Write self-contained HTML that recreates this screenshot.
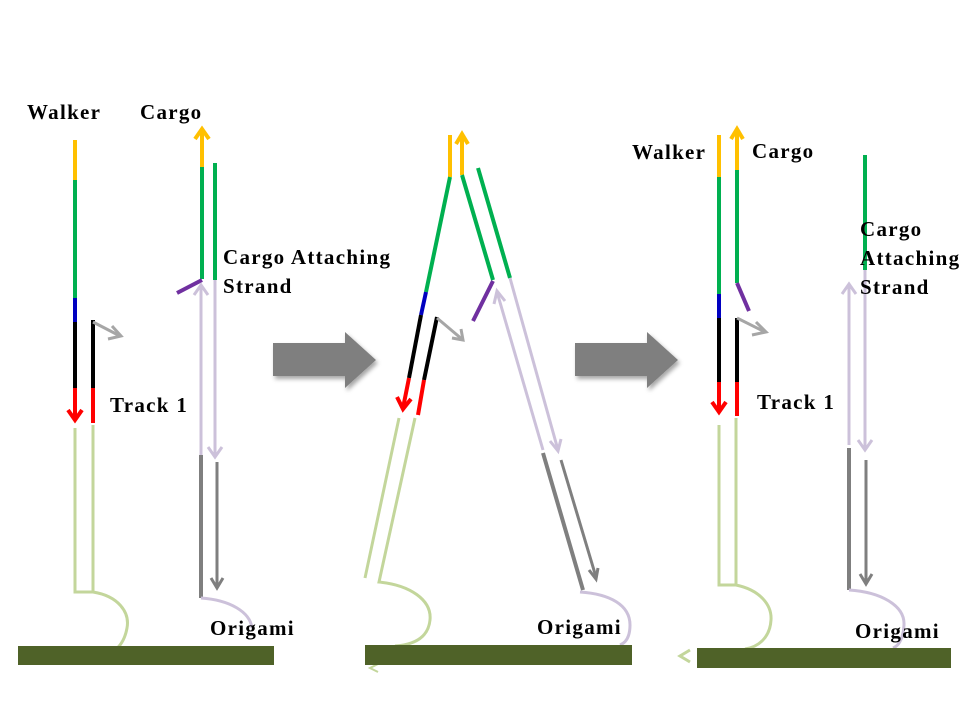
<!DOCTYPE html>
<html><head><style>
html,body{margin:0;padding:0;background:#fff;}
svg{display:block}
text{font-family:"Liberation Serif",serif;font-weight:bold;font-size:21px;letter-spacing:1.3px;fill:#000}
</style></head><body>
<svg width="960" height="720" viewBox="0 0 960 720" xmlns="http://www.w3.org/2000/svg">
<defs>
<filter id="sh" x="-20%" y="-20%" width="150%" height="150%"><feDropShadow dx="2" dy="3" stdDeviation="2" flood-color="#000" flood-opacity="0.35"/></filter>
</defs>
<g fill="none" stroke-width="4" stroke-linecap="butt">
<!-- Panel 1 -->
<line x1="75" y1="140" x2="75" y2="180" stroke="#ffc000"/>
<line x1="75" y1="180" x2="75" y2="298" stroke="#00b050"/>
<line x1="75" y1="298" x2="75" y2="322" stroke="#0000c0"/>
<line x1="75" y1="322" x2="75" y2="388" stroke="#000"/>
<line x1="75" y1="388" x2="75" y2="420" stroke="#ff0000"/>
<polyline points="68,410 75,420 82,410" stroke="#ff0000"/>
<line x1="93" y1="320" x2="93" y2="388" stroke="#000"/>
<line x1="93" y1="388" x2="93" y2="423" stroke="#ff0000"/>
<polyline points="93,322 120,336" stroke="#a6a6a6" stroke-width="3"/>
<polyline points="112,326 121,336 108,339" stroke="#a6a6a6" stroke-width="3"/>
<path d="M75,428 V592 H93 V425 M93,592 C118,596 130,612 127,628 C124,645 115,650 112,652" stroke="#c3d69b" stroke-width="3"/>
<line x1="202" y1="167" x2="202" y2="130" stroke="#ffc000"/>
<polyline points="195,139 202,129 209,139" stroke="#ffc000"/>
<line x1="202" y1="167" x2="202" y2="279" stroke="#00b050"/>
<line x1="215" y1="163" x2="215" y2="280" stroke="#00b050"/>
<line x1="202" y1="280" x2="177" y2="293" stroke="#7030a0"/>
<line x1="215" y1="280" x2="215" y2="457" stroke="#ccc1da" stroke-width="3"/>
<polyline points="208,447 215,457 222,447" stroke="#ccc1da" stroke-width="3"/>
<line x1="201" y1="455" x2="201" y2="285" stroke="#ccc1da" stroke-width="3"/>
<polyline points="194,295 201,285 208,295" stroke="#ccc1da" stroke-width="3"/>
<line x1="201" y1="455" x2="201" y2="598" stroke="#7f7f7f"/>
<line x1="217" y1="462" x2="217" y2="586" stroke="#7f7f7f" stroke-width="3"/>
<polyline points="211,578 217,588 223,578" stroke="#7f7f7f" stroke-width="3"/>
<path d="M201,598 C230,600 250,612 252,628" stroke="#ccc1da" stroke-width="3"/>
<!-- Panel 2 -->
<line x1="450" y1="135" x2="450" y2="177" stroke="#ffc000"/>
<line x1="450" y1="177" x2="426" y2="292" stroke="#00b050"/>
<line x1="426" y1="292" x2="421" y2="315" stroke="#0000c0"/>
<line x1="421" y1="315" x2="409" y2="378" stroke="#000"/>
<line x1="409" y1="378" x2="403" y2="408" stroke="#ff0000"/>
<polyline points="397,397 403,409 411,399" stroke="#ff0000"/>
<line x1="437" y1="317" x2="424" y2="380" stroke="#000"/>
<line x1="424" y1="380" x2="418" y2="415" stroke="#ff0000"/>
<polyline points="437,318 463,340" stroke="#a6a6a6" stroke-width="3"/>
<polyline points="452,338 463,340 461,329" stroke="#a6a6a6" stroke-width="3"/>
<path d="M399,418 L365,578 M415,418 L379,582 C410,585 432,600 430,620 C428,640 410,645 395,646" stroke="#c3d69b" stroke-width="3"/>
<line x1="462" y1="175" x2="462" y2="135" stroke="#ffc000"/>
<polyline points="456,144 462,134 468,144" stroke="#ffc000"/>
<line x1="462" y1="175" x2="493" y2="280" stroke="#00b050"/>
<line x1="493" y1="281" x2="473" y2="321" stroke="#7030a0"/>
<line x1="478" y1="168" x2="510" y2="278" stroke="#00b050"/>
<line x1="510" y1="278" x2="558" y2="450" stroke="#ccc1da" stroke-width="3"/>
<polyline points="550,441 558,451 561,439" stroke="#ccc1da" stroke-width="3"/>
<line x1="543" y1="450" x2="497" y2="292" stroke="#ccc1da" stroke-width="3"/>
<polyline points="494,304 497,291 505,301" stroke="#ccc1da" stroke-width="3"/>
<line x1="543" y1="453" x2="583" y2="590" stroke="#7f7f7f"/>
<line x1="561" y1="460" x2="596" y2="577" stroke="#7f7f7f" stroke-width="3"/>
<polyline points="589,570 596,579 598,568" stroke="#7f7f7f" stroke-width="3"/>
<path d="M580,592 C610,594 630,605 630,625 C630,638 625,643 620,645" stroke="#ccc1da" stroke-width="3"/>
<!-- Panel 3 -->
<line x1="719" y1="135" x2="719" y2="177" stroke="#ffc000"/>
<line x1="719" y1="177" x2="719" y2="294" stroke="#00b050"/>
<line x1="719" y1="294" x2="719" y2="318" stroke="#0000c0"/>
<line x1="719" y1="318" x2="719" y2="382" stroke="#000"/>
<line x1="719" y1="382" x2="719" y2="412" stroke="#ff0000"/>
<polyline points="712,402 719,412 726,402" stroke="#ff0000"/>
<line x1="737" y1="318" x2="737" y2="382" stroke="#000"/>
<line x1="737" y1="382" x2="737" y2="416" stroke="#ff0000"/>
<polyline points="737,318 765,332" stroke="#a6a6a6" stroke-width="3"/>
<polyline points="756,322 766,332 752,335" stroke="#a6a6a6" stroke-width="3"/>
<path d="M719,425 V585 H736 V418 M736,585 C760,590 772,605 771,620 C770,638 758,647 745,649" stroke="#c3d69b" stroke-width="3"/>
<line x1="737" y1="170" x2="737" y2="130" stroke="#ffc000"/>
<polyline points="731,139 737,129 743,139" stroke="#ffc000"/>
<line x1="737" y1="170" x2="737" y2="283" stroke="#00b050"/>
<line x1="737" y1="283" x2="749" y2="311" stroke="#7030a0"/>
<line x1="865" y1="155" x2="865" y2="270" stroke="#00b050"/>
<line x1="865" y1="270" x2="865" y2="450" stroke="#ccc1da" stroke-width="3"/>
<polyline points="858,440 865,450 872,440" stroke="#ccc1da" stroke-width="3"/>
<line x1="849" y1="445" x2="849" y2="284" stroke="#ccc1da" stroke-width="3"/>
<polyline points="842,294 849,284 856,294" stroke="#ccc1da" stroke-width="3"/>
<line x1="849" y1="448" x2="849" y2="590" stroke="#7f7f7f"/>
<line x1="866" y1="460" x2="866" y2="582" stroke="#7f7f7f" stroke-width="3"/>
<polyline points="860,574 866,584 872,574" stroke="#7f7f7f" stroke-width="3"/>
<path d="M849,590 C880,592 905,605 904,625 C903,640 898,646 893,648" stroke="#ccc1da" stroke-width="3"/>
<polyline points="690,650 680,656 690,662" stroke="#c3d69b" stroke-width="3"/>
<polyline points="378,664 370,668 378,672" stroke="#c3d69b" stroke-width="2"/>
</g>
<!-- Bars -->
<rect x="18" y="646" width="256" height="19" fill="#4f6228"/>
<rect x="365" y="645" width="267" height="20" fill="#4f6228"/>
<rect x="697" y="648" width="254" height="20" fill="#4f6228"/>
<!-- Block arrows -->
<polygon points="273,343 345,343 345,332 376,360 345,388 345,376 273,376" fill="#7f7f7f" filter="url(#sh)"/>
<polygon points="575,343 647,343 647,332 678,360 647,388 647,376 575,376" fill="#7f7f7f" filter="url(#sh)"/>
<!-- Labels -->
<text x="27" y="119">Walker</text>
<text x="140" y="119">Cargo</text>
<text x="223" y="264">Cargo Attaching</text>
<text x="223" y="293">Strand</text>
<text x="110" y="412">Track 1</text>
<text x="210" y="635">Origami</text>
<text x="537" y="634">Origami</text>
<text x="632" y="159">Walker</text>
<text x="752" y="158">Cargo</text>
<text x="860" y="236">Cargo</text>
<text x="860" y="265">Attaching</text>
<text x="860" y="294">Strand</text>
<text x="757" y="409">Track 1</text>
<text x="855" y="638">Origami</text>
</svg>
</body></html>
